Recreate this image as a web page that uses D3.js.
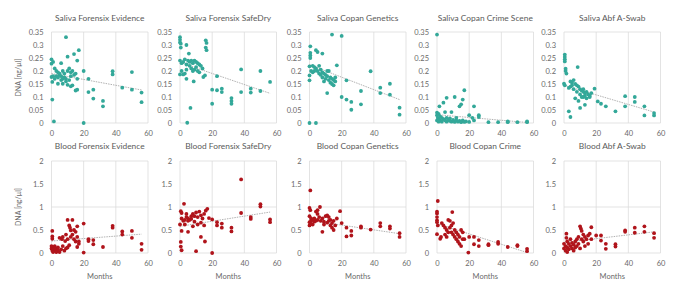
<!DOCTYPE html>
<html><head><meta charset="utf-8">
<script src="https://cdn.jsdelivr.net/npm/d3@7"></script>
<style>html,body{margin:0;padding:0;background:#fff;} svg{display:block;}</style>
</head><body>
<svg id="chart" width="673" height="281"></svg>
<script>
// ---------- DATA ----------
const panelTitles = ["Saliva Forensix Evidence","Saliva Forensix SafeDry","Saliva Copan Genetics","Saliva Copan Crime Scene","Saliva Abf A-Swab",
  "Blood Forensix Evidence","Blood Forensix SafeDry","Blood Copan Genetics","Blood Copan Crime","Blood Abf A-Swab"];
const xTicks = [0,20,40,60];
const salivaTicks = [0,0.05,0.1,0.15,0.2,0.25,0.3,0.35];
const bloodTicks = [0,0.5,1,1.5,2];
const yLabel = "DNA [ng/µl]";
const xLabel = "Months";

const salivaForensixEvidence = [[9,0.33],[17,0.28],[14,0.265],[10,0.255],[0,0.245],[1,0.235],[16,0.24],[6,0.23],[0,0.228],
 [2,0.21],[3,0.2],[4,0.195],[5,0.19],[5,0.185],[6,0.18],[7,0.2],[8,0.19],[8,0.175],[9,0.17],[10,0.2],[11,0.21],[12,0.195],[13,0.2],[14,0.185],[15,0.19],[3,0.18],[4,0.175],[2,0.17],[1,0.18],[6,0.165],[7,0.17],[9,0.16],[11,0.165],[12,0.18],[16,0.17],
 [0,0.177],[0.5,0.158],[4,0.151],[7,0.151],[10,0.147],[12,0.141],[13,0.145],[16,0.128],[15,0.125],
 [20,0.2],[23,0.17],[23,0.119],[26,0.128],[26,0.094],[32,0.085],[32,0.064],[38,0.199],[38,0.187],[44,0.136],[50,0.196],[50,0.128],[56,0.117],[56,0.08],[0.5,0.09],[1.5,0.006],[20,0]];
const salivaForensixSafeDry = [[0,0.33],[0,0.32],[0,0.31],[0.5,0.305],[0.5,0.29],[4,0.3],[16,0.318],[16.5,0.308],[16,0.29],[16.5,0.28],[5.5,0.267],
 [0,0.24],[1,0.23],[2,0.235],[3,0.245],[4,0.225],[5,0.24],[6,0.235],[7,0.24],[8,0.23],[9,0.24],[10,0.235],[11,0.23],[12,0.225],[13,0.22],[14,0.21],[6,0.22],[7,0.21],[8,0.2],[9,0.205],[10,0.215],[11,0.2],[12,0.195],[4,0.205],[3,0.19],[1,0.2],[0,0.187],[2,0.187],[4,0.17],[8.5,0.16],[14.5,0.177],[15.5,0.183],
 [23,0.18],[38,0.206],[50,0.2],[56,0.158],[20,0.128],[23,0.126],[26,0.132],[26,0.119],[32,0.096],[32,0.085],[32,0.074],[38,0.119],[44,0.132],[44,0.117],[50,0.123],[20,0.074],[6.5,0.058],[4.5,0.001]];
const salivaCopanGenetics = [[14,0.34],[20,0.335],[0.5,0.295],[0.5,0.27],[0.5,0.26],[0.5,0.25],[4,0.28],[5,0.273],[8,0.267],
 [0,0.218],[1,0.2],[0,0.183],[0,0.164],
 [2,0.22],[3,0.215],[4,0.21],[5,0.2],[6,0.22],[7,0.205],[8,0.195],[9,0.19],[10,0.185],[11,0.18],[12,0.2],[13,0.175],[14,0.17],[15,0.165],[16,0.16],[2,0.195],[3,0.2],[6,0.19],[8,0.175],[10,0.17],[12,0.165],[13,0.155],[14,0.15],[15,0.145],[9,0.16],[11,0.2],[16,0.175],[7,0.185],
 [17,0.222],[23,0.164],[38,0.199],[44,0.136],[44,0.115],[50,0.151],[50,0.109],[32,0.123],[20,0.1],[23,0.09],[26,0.081],[26,0.051],[32,0.072],[11,0.115],[56,0.059],[56,0.032],[0,0],[4,0]];
const salivaCopanCrimeScene = [[0,0.34],[1.5,0.064],[4,0.078],[6,0.097],[11,0.1],[17,0.126],[16,0.09],[15,0.072],[14,0.064],[23,0.064],[5,0.042],[9,0.042],[20,0.03],[26,0.023],[26,0.03],
 [0,0.04],[0,0.03],[0.5,0.02],[1,0.035],[1,0.015],[2,0.025],[2,0.01],[3,0.02],[3,0.005],[4,0.015],[5,0.01],[6,0.02],[6,0.005],[7,0.012],[8,0.008],[8,0.018],[9,0.005],[10,0.012],[11,0.004],[12,0.01],[12,0.02],[13,0.005],[14,0.008],[15,0.003],[16,0.01],[17,0.004],[18,0.006],[20,0.004],[23,0.01],[0,0.01],[1,0.005],
 [32,0.003],[38,0.003],[44,0.003],[50,0.003],[56,0.003],[56,0.006],[44,0.006],[22,0.02]];
const salivaAbfASwab = [[0.5,0.263],[0.5,0.254],[0.5,0.245],[0.5,0.237],[1,0.209],[1,0.2],[1.5,0.19],[8.5,0.215],[0,0.151],[0.5,0.145],
 [4,0.16],[5,0.155],[6,0.165],[7,0.15],[8,0.145],[9,0.14],[10,0.13],[11,0.125],[12,0.12],[13,0.115],[14,0.12],[15,0.11],[16,0.105],[17,0.115],[3,0.135],[4,0.14],[6,0.13],[8,0.12],[10,0.11],[12,0.1],[13,0.105],[14,0.095],[16,0.1],[7,0.095],[9,0.085],[11,0.1],[12,0.13],[5,0.145],
 [19,0.132],[21,0.083],[23,0.074],[26,0.064],[32,0.045],[38,0.103],[38,0.064],[44,0.1],[44,0.081],[50,0.064],[50,0.029],[56,0.038],[56,0.029],[3,0.045],[4,0.023],[10,0.058],[13,0.07]];
const bloodForensixEvidence = [[10,0.72],[13,0.72],[11,0.6],[11.5,0.55],[12,0.49],[20,0.64],[16,0.58],[14,0.5],[15,0.46],[0.5,0.48],[0.5,0.36],[0.5,0.31],[5,0.33],[6.5,0.3],[8.5,0.26],
 [0,0.15],[0,0.1],[0.5,0.05],[1,0.12],[1,0.08],[2,0.15],[2,0.05],[3,0.1],[3,0.03],[4,0.12],[4,0.06],[5,0.02],[6,0.08],[7,0.15],[8,0.05],[9,0.1],[10,0.12],[11,0.17],[12,0.35],[13,0.4],[14,0.3],[15,0.25],[16,0.35],[17,0.2],[7,0.35],[9,0.4],[10,0.3],[3,0.02],[1,0.02],[2,0.1],
 [23,0.3],[23,0.26],[26,0.28],[26,0.19],[16,0.13],[17,0.25],[32,0.13],[38,0.59],[38,0.55],[44,0.47],[44,0.4],[50,0.48],[50,0.33],[56,0.2],[56,0.07],[20,0.01]];
const bloodForensixSafeDry = [[38,1.6],[2.5,1.07],[0.5,0.91],[1,0.87],[50,1.06],[50,1.01],[38,0.87],[17,0.96],[44,0.78],[44,0.74],[56,0.73],[56,0.67],
 [1,0.75],[2,0.7],[3,0.72],[4,0.85],[5,0.75],[6,0.72],[7,0.8],[8,0.85],[9,0.8],[10,0.88],[11,0.78],[12,0.9],[13,0.82],[14,0.75],[15,0.85],[16,0.92],[3,0.62],[5,0.7],[7,0.74],[9,0.68],[11,0.62],[13,0.66],[15,0.6],[4,0.78],
 [20,0.73],[18,0.76],[23,0.67],[23,0.6],[26,0.64],[26,0.55],[32,0.55],[32,0.47],[0,0.62],[1,0.48],[5,0.46],[8,0.58],[13,0.35],[15.5,0.25],[0.5,0.24],[0.5,0.14],[1,0.06],[10,0.04],[20,0]];
const bloodCopanGenetics = [[0.5,1.36],[0,0.98],[0.5,0.93],[6.5,1.0],[5,0.93],[4,0.9],[5,0.85],[19,0.91],
 [0,0.8],[1,0.75],[1,0.7],[2,0.72],[3,0.68],[3,0.75],[4,0.7],[5,0.72],[6,0.78],[7,0.7],[8,0.75],[9,0.68],[10,0.8],[11,0.82],[12,0.78],[13,0.72],[14,0.65],[15,0.7],[16,0.6],[17,0.75],[9,0.62],[11,0.66],[12,0.7],[13,0.6],[14,0.55],[15,0.5],[2,0.62],[0,0.67],[0,0.6],[1,0.63],[8,0.46],
 [20,0.65],[23,0.55],[23,0.36],[26,0.48],[26,0.38],[32,0.58],[32,0.55],[38,0.51],[44,0.65],[44,0.58],[50,0.58],[50,0.53],[56,0.43],[56,0.35]];
const bloodCopanCrime = [[0.5,1.13],[0,0.9],[0,0.86],[0,0.78],[0,0.71],[0,0.67],[0.5,0.6],[9.5,0.89],[7,0.72],[8,0.7],[0,0.41],[2.5,0.35],[2,0.31],
 [3,0.65],[4,0.6],[5,0.55],[6,0.5],[7,0.45],[8,0.55],[9,0.6],[10,0.65],[11,0.5],[12,0.45],[13,0.4],[14,0.35],[15,0.5],[16,0.45],[17,0.3],[5,0.4],[6,0.35],[9,0.45],[11,0.35],[12,0.3],[13,0.25],[14,0.2],[16,0.3],[10,0.4],[15,0.15],
 [19.5,0.01],[20,0.35],[23,0.35],[23,0.19],[26,0.28],[26,0.15],[32,0.19],[32,0.17],[38,0.24],[38,0.2],[44,0.13],[50,0.17],[50,0.15],[56,0.09],[56,0.04]];
const bloodAbfASwab = [[10,0.58],[10.5,0.53],[11,0.48],[17,0.56],[50,0.58],[50,0.46],[44,0.55],[44,0.44],[38,0.49],[38,0.46],[56,0.43],[56,0.33],[1.5,0.42],[1.5,0.33],
 [0,0.2],[0,0.1],[1,0.15],[1,0.05],[2,0.25],[2,0.12],[3,0.08],[3,0.2],[4,0.15],[4,0.3],[5,0.1],[5,0.22],[6,0.18],[6,0.05],[7,0.25],[7,0.12],[8,0.3],[8,0.15],[9,0.2],[9,0.35],[10,0.1],[11,0.3],[12,0.25],[12,0.4],[13,0.15],[13,0.35],[14,0.3],[15,0.38],[15,0.2],[16,0.42],[17,0.3],[2,0.02],
 [20,0.38],[23,0.38],[23,0.27],[26,0.2],[26,0.09],[32,0.19],[32,0.14]];

// trendline end values: [value at month 0, value at month 56]
const trendStart = [0.19,0.233,0.224,0.032,0.145, 0.26,0.58,0.71,0.64,0.23];
const trendEnd   = [0.127,0.114,0.09,0.002,0.042, 0.41,0.89,0.42,0.01,0.46];
const trendMonths = [0,56];

const panelData = [salivaForensixEvidence,salivaForensixSafeDry,salivaCopanGenetics,salivaCopanCrimeScene,salivaAbfASwab,
  bloodForensixEvidence,bloodForensixSafeDry,bloodCopanGenetics,bloodCopanCrime,bloodAbfASwab];

// ---------- LAYOUT ----------
const colLeft = [51.5,180,309.5,437,564];
const plotW = 96.5;
const rows = [
  {top:32, bottom:123, ticks:salivaTicks, max:0.35, color:"#33a899", grid:[], titleY:19},
  {top:161, bottom:253, ticks:bloodTicks, max:2, color:"#b0141b", grid:[1], titleY:147}
];
const font = "Lato, 'Open Sans', sans-serif";
const textColor = "#6a6a6a";
const gridColor = "#dcdcdc";

const svg = d3.select("#chart");
const fmt = v => String(+v.toFixed(2));

panelData.forEach((data,i) => {
  const r = Math.floor(i/5), c = i%5;
  const row = rows[r];
  const x = d3.scaleLinear().domain([0,60]).range([colLeft[c], colLeft[c]+plotW]);
  const y = d3.scaleLinear().domain([0,row.max]).range([row.bottom,row.top]);
  const g = svg.append("g");

  // gridlines
  g.selectAll(".vg").data(xTicks).join("line")
    .attr("x1",d=>x(d)).attr("x2",d=>x(d)).attr("y1",row.top).attr("y2",row.bottom)
    .attr("stroke",gridColor).attr("stroke-width",0.8);
  g.selectAll(".hg").data([...row.grid,0,row.max]).join("line")
    .attr("x1",x(0)).attr("x2",x(60)).attr("y1",d=>y(d)).attr("y2",d=>y(d))
    .attr("stroke",gridColor).attr("stroke-width",0.8);

  // axes (labels only)
  const yAxis = d3.axisLeft(y).tickValues(row.ticks).tickFormat(fmt).tickSize(0).tickPadding(8);
  const ya = g.append("g").attr("transform",`translate(${x(0)},0)`).call(yAxis);
  const xAxis = d3.axisBottom(x).tickValues(xTicks).tickSize(0).tickPadding(8);
  const xa = g.append("g").attr("transform",`translate(0,${row.bottom})`).call(xAxis);
  [ya,xa].forEach(a => {
    a.select(".domain").remove();
    a.selectAll("text").attr("fill",textColor).style("font-family",font).style("font-size","7.5px");
  });

  // trendline
  const tl = trendMonths.map((m,k)=>[m, k===0?trendStart[i]:trendEnd[i]]);
  g.append("path").datum(tl)
    .attr("d", d3.line().x(d=>x(d[0])).y(d=>y(d[1])))
    .attr("stroke","#a8a8a8").attr("stroke-width",0.9).attr("stroke-dasharray","1.5,1").attr("fill","none");

  // points
  g.selectAll("circle").data(data).join("circle")
    .attr("cx",d=>x(d[0])).attr("cy",d=>y(d[1])).attr("r",1.9)
    .attr("fill",row.color);

  // title
  g.append("text").attr("x",x(30)).attr("y",row.titleY).attr("text-anchor","middle")
    .attr("dominant-baseline","middle").attr("fill","#5a5a5a")
    .style("font-family",font).style("font-size","8.4px").text(panelTitles[i]);

  if (r===1) {
    g.append("text").attr("x",x(30)).attr("y",277).attr("text-anchor","middle")
      .attr("dominant-baseline","middle").attr("fill",textColor)
      .style("font-family",font).style("font-size","7.5px").text(xLabel);
  }
  if (c===0) {
    const cy = (row.top+row.bottom)/2;
    g.append("text").attr("transform",`translate(19,${cy}) rotate(-90)`)
      .attr("text-anchor","middle").attr("dominant-baseline","middle").attr("fill",textColor)
      .style("font-family",font).style("font-size","7px").text(yLabel);
  }
});
</script>
</body></html>
